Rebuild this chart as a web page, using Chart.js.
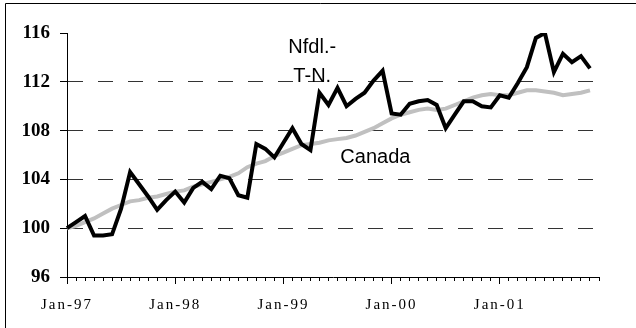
<!DOCTYPE html>
<html>
<head>
<meta charset="utf-8">
<script src="https://cdn.jsdelivr.net/npm/chart.js@4/dist/chart.umd.min.js"></script>
<style>
  body { margin: 0; background: #fff; }
  canvas { display: block; }
</style>
</head>
<body>
<canvas id="myChart" width="636" height="328"></canvas>
<script>
/* DATA: MONTHLY INDEX, JAN 1997 = 100 */

const years = ['97', '98', '99', '00', '01'];
const months = ['Jan', 'Feb', 'Mar', 'Apr', 'May', 'Jun', 'Jul', 'Aug', 'Sep', 'Oct', 'Nov', 'Dec'];
const yTicks = [96, 100, 104, 108, 112, 116];

const nfld = [
  100.0, 100.5, 101.0, 99.4, 99.4, 99.5, 101.6, 104.6, 103.6, 102.6, 101.5, 102.3,
  103.0, 102.1, 103.3, 103.8, 103.2, 104.3, 104.1, 102.7, 102.5, 106.9, 106.5, 105.8,
  107.0, 108.2, 106.9, 106.4, 111.1, 110.1, 111.5, 110.0, 110.6, 111.1, 112.1, 112.9,
  109.4, 109.3, 110.2, 110.4, 110.5, 110.1, 108.2, 109.3, 110.4, 110.4, 110.0, 109.9,
  110.9, 110.7, 111.9, 113.2, 115.6, 116.0, 112.8, 114.3, 113.6, 114.1, 113.1
];
const canada = [
  100.0, 100.2, 100.5, 100.8, 101.2, 101.6, 101.9, 102.2, 102.3, 102.5, 102.6, 102.8,
  103.0, 103.1, 103.4, 103.6, 103.8, 104.0, 104.2, 104.5, 105.0, 105.3, 105.5, 105.9,
  106.2, 106.5, 106.8, 106.9, 107.0, 107.2, 107.3, 107.4, 107.6, 107.9, 108.2, 108.6,
  109.0, 109.3, 109.5, 109.7, 109.8, 109.7, 109.8, 110.1, 110.4, 110.7, 110.9, 111.0,
  110.9, 110.9, 111.1, 111.3, 111.3, 111.2, 111.1, 110.9, 111.0, 111.1, 111.3
];

// series captions, placed in data units (month index, index value)
const captions = [
  { text: 'Nfdl.-', month: 27.2, value: 114.85 },
  { text: 'T-N.', month: 27.2, value: 112.4 },
  { text: 'Canada', month: 34.2, value: 105.8 }
];

let labels = [];
years.forEach(y => months.forEach(m => labels.push(m + '-' + y)));

/* PLUGINS */

// spaced-out lettering for the month labels of the x axis only
const axisSpacing = {
  id: 'axisSpacing',
  afterUpdate(chart) {
    const s = chart.scales.x;
    if (s._spacedLabels) return;
    const drawLabels = s.drawLabels;
    s.drawLabels = function (area) {
      const ctx = this.ctx;
      ctx.letterSpacing = '2px';
      drawLabels.call(this, area);
      ctx.letterSpacing = '0px';
    };
    s._spacedLabels = true;
  }
};

const captionText = {
  id: 'captionText',
  afterDatasetsDraw(chart) {
    const ctx = chart.ctx;
    const xs = chart.scales.x, ys = chart.scales.y;
    ctx.save();
    ctx.font = '20px "Liberation Sans", Arial, sans-serif';
    ctx.fillStyle = '#000';
    ctx.textAlign = 'center';
    ctx.textBaseline = 'middle';
    captions.forEach(c => {
      const px = xs.getPixelForValue(0) + (xs.getPixelForValue(1) - xs.getPixelForValue(0)) * c.month;
      ctx.fillText(c.text, px, ys.getPixelForValue(c.value));
    });
    ctx.restore();
  }
};

const frame = {
  id: 'frame',
  afterDraw(chart) {
    const ctx = chart.ctx;
    ctx.save();
    ctx.strokeStyle = '#000';
    ctx.lineWidth = 1;
    ctx.beginPath();
    ctx.moveTo(5.5, chart.height);
    ctx.lineTo(5.5, 3.5);
    ctx.lineTo(chart.width, 3.5);
    ctx.stroke();
    ctx.restore();
  }
};

/* CHART */

function printChart() {
  const ctx = document.getElementById('myChart').getContext('2d');
  return new Chart(ctx, {
    type: 'line',
    data: {
      labels: labels,
      datasets: [{
        label: 'Nfdl.-T-N.',
        data: nfld,
        borderColor: '#000',
        borderWidth: 4,
        pointRadius: 0,
        tension: 0,
        order: 0
      }, {
        label: 'Canada',
        data: canada,
        borderColor: '#c0c0c0',
        borderWidth: 4,
        pointRadius: 0,
        tension: 0,
        order: 1
      }]
    },
    options: {
      responsive: false,
      animation: false,
      devicePixelRatio: 1,
      layout: { padding: { top: 33, right: 37, bottom: 0, left: 0 } },
      plugins: {
        legend: { display: false },
        tooltip: { enabled: false }
      },
      scales: {
        x: {
          type: 'category',
          offset: false,
          afterFit(scale) { scale.height = 51; },
          border: { display: true, color: '#000', width: 1 },
          grid: {
            drawOnChartArea: false,
            drawTicks: true,
            tickLength: 4,
            tickColor: '#000'
          },
          ticks: {
            autoSkip: false,
            maxRotation: 0,
            padding: 15,
            color: '#000',
            font: { family: '"Liberation Serif", "Times New Roman", serif', size: 15 },
            callback(value) {
              const l = this.getLabelForValue(value);
              return l.startsWith('Jan') ? l : '';
            }
          }
        },
        xMajor: {
          type: 'category',
          axis: 'x',
          labels: labels,
          offset: false,
          position: { y: 96 },
          border: { display: false },
          grid: {
            drawOnChartArea: false,
            drawTicks: true,
            tickLength: 7,
            tickColor: c => (c.index % 12 === 0 ? '#000' : 'rgba(0,0,0,0)')
          },
          ticks: { display: false, autoSkip: false }
        },
        y: {
          min: yTicks[0],
          max: yTicks[yTicks.length - 1],
          afterFit(scale) { scale.width = 67; },
          afterBuildTicks(scale) { scale.ticks = yTicks.map(v => ({ value: v })); },
          // in v4 the dash set on border also applies to the grid lines
          border: { display: true, color: '#000', width: 1, dash: [15, 15] },
          grid: {
            color: c => (c.tick && c.tick.value > 96 && c.tick.value < 116 ? '#333' : 'rgba(0,0,0,0)'),
            lineWidth: 1,
            tickBorderDash: [],
            drawTicks: true,
            tickLength: 7,
            tickColor: '#000'
          },
          ticks: {
            padding: 10,
            color: '#000',
            font: { family: '"Liberation Serif", "Times New Roman", serif', size: 19, weight: 'bold' }
          }
        }
      }
    },
    plugins: [axisSpacing, captionText, frame]
  });
}

printChart();
</script>
</body>
</html>
